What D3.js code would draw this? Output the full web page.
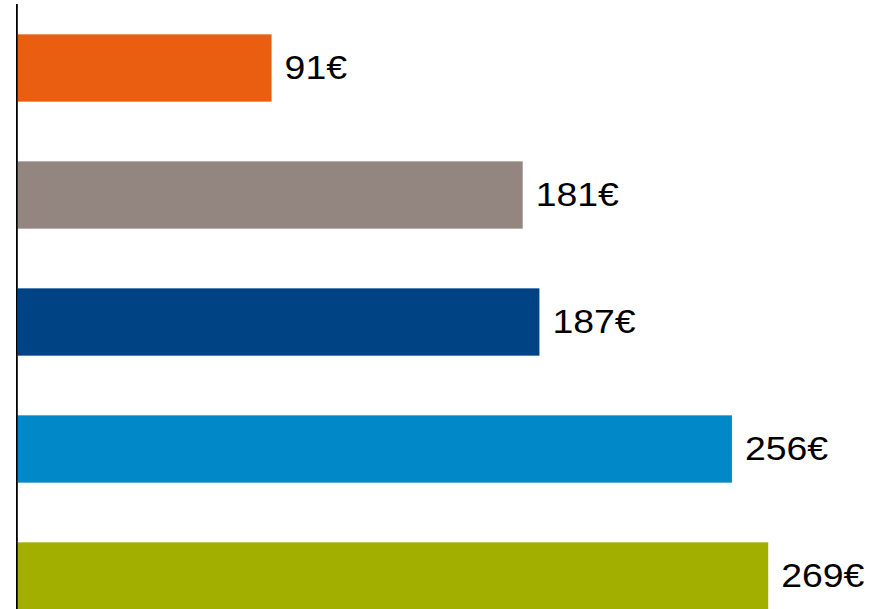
<!DOCTYPE html>
<html>
<head>
<meta charset="utf-8">
<script src="https://cdn.jsdelivr.net/npm/d3@7"></script>
<style>
  html, body { margin: 0; padding: 0; background: #ffffff; }
  svg { display: block; }
</style>
</head>
<body>
<script>
// Price per category, drawn as horizontal bars from top to bottom
const categories = ["A", "B", "C", "D", "E"];
const values = [91, 181, 187, 256, 269];
const valueLabels = ["91€", "181€", "187€", "256€", "269€"];
const colors = ["#EA5E12", "#938680", "#004384", "#0088C9", "#A3AF00"];

const width = 889, height = 609;
const axisX = 17.7;

const svg = d3.select("body").append("svg")
  .attr("width", width)
  .attr("height", height);

const x = d3.scaleLinear()
  .domain([0, 300])
  .range([axisX, axisX + 300 * 2.79]);

const y = d3.scaleBand()
  .domain(categories)
  .range([4.5, 639.5])
  .paddingInner(0.47)
  .paddingOuter(0.235);

// bars
svg.selectAll("rect.bar")
  .data(values)
  .join("rect")
  .attr("class", "bar")
  .attr("x", x(0))
  .attr("y", (d, i) => y(categories[i]))
  .attr("width", d => x(d) - x(0))
  .attr("height", y.bandwidth())
  .attr("fill", (d, i) => colors[i]);

// value labels, slightly widened glyphs
svg.selectAll("text.label")
  .data(values)
  .join("text")
  .attr("class", "label")
  .attr("transform", (d, i) =>
    `translate(${x(d) + 13},${y(categories[i]) + y.bandwidth() / 2 + 10.5}) scale(1.1,1)`)
  .attr("font-family", "'Liberation Sans', Arial, sans-serif")
  .attr("font-size", 34)
  .attr("fill", "#000000")
  .text((d, i) => valueLabels[i]);

// vertical category axis line
svg.append("line")
  .attr("x1", 16.9).attr("x2", 16.9)
  .attr("y1", 4).attr("y2", height)
  .attr("stroke", "#000000")
  .attr("stroke-width", 1.8);
</script>
</body>
</html>
